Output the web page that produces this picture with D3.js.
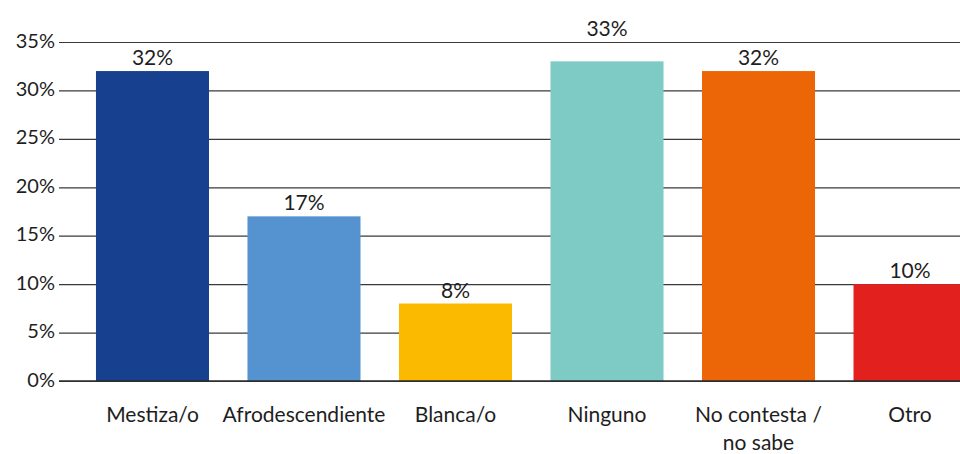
<!DOCTYPE html>
<html><head><meta charset="utf-8">
<script src="https://cdn.jsdelivr.net/npm/d3@7"></script>
<style>body{margin:0;background:#fff}svg{display:block}text{font-family:Lato,"Open Sans",sans-serif;fill:#1e1e1e}</style>
</head><body><svg id="c" width="960" height="454"></svg>
<script>
const categories = ["Mestiza/o","Afrodescendiente","Blanca/o","Ninguno","No contesta /\nno sabe","Otro"];
const values = [32,17,8,33,32,10];
const colors = ["#17408f","#5593d0","#fbb900","#7ecac5","#ec6608","#e2211f"];
const yTicks = [0,5,10,15,20,25,30,35];

const svg = d3.select("#c");
const y = d3.scaleLinear().domain([0,35]).range([381,42]);
const x = d3.scaleBand().domain(categories).range([59,1003.5]).paddingInner(0.254).paddingOuter(0.244);

const yAxis = d3.axisLeft(y).tickValues(yTicks).tickFormat(d=>d+"%").tickSize(-960).tickPadding(4);
const gy = svg.append("g").attr("transform","translate(59,0)").call(yAxis);
gy.select(".domain").remove();
gy.selectAll(".tick line").attr("stroke","#3a3a3a").attr("stroke-width",1.2);
gy.selectAll(".tick text").attr("font-size",20).attr("x",-4).attr("dy","0.25em").style("fill","#1e1e1e").style("font-family","Lato,sans-serif");

svg.append("g").selectAll("rect").data(values).join("rect")
  .attr("x",(d,i)=>x(categories[i])).attr("width",x.bandwidth())
  .attr("y",d=>y(d)).attr("height",d=>y(0)-y(d))
  .attr("fill",(d,i)=>colors[i]);

svg.append("line").attr("x1",59).attr("x2",960).attr("y1",y(0)).attr("y2",y(0)).attr("stroke","#2a2a2a").attr("stroke-width",1.5);

const gridTop = y(d3.max(yTicks));
svg.append("g").selectAll("text").data(values).join("text")
  .attr("x",(d,i)=>x(categories[i])+x.bandwidth()/2)
  .attr("y",d=>{const b=y(d)-6; return (b-17<gridTop && b>gridTop) ? gridTop-6 : b;})
  .attr("text-anchor","middle").attr("font-size",21).text(d=>d+"%");

const gx = d3.axisBottom(x).tickSize(0).tickFormat("");
svg.append("g").attr("transform","translate(0,381)").call(gx).select(".domain").remove();

svg.append("g").selectAll("text").data(categories).join("text")
  .attr("x",d=>x(d)+x.bandwidth()/2).attr("y",422)
  .attr("text-anchor","middle").attr("font-size",21)
  .each(function(d){
    const t=d3.select(this);
    d.split("\n").forEach((s,k)=>t.append("tspan").attr("x",x(d)+x.bandwidth()/2).attr("dy",k?27.5:0).text(s));
  });
</script></body></html>
